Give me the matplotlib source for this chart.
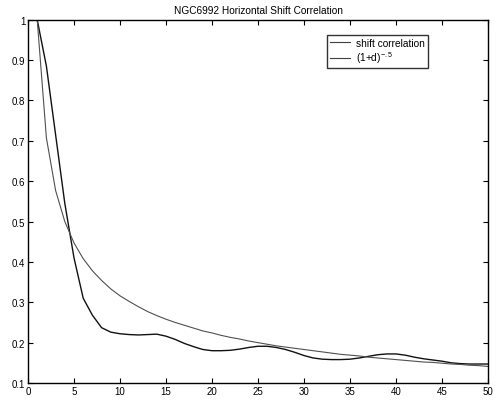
import numpy as np
import matplotlib
matplotlib.use("Agg")
import matplotlib.pyplot as plt
from matplotlib.ticker import FuncFormatter

plt.rcParams['font.family'] = ['Liberation Sans', 'DejaVu Sans']
plt.rcParams['mathtext.fontset'] = 'custom'
plt.rcParams['mathtext.rm'] = 'Liberation Sans'
plt.rcParams['mathtext.default'] = 'regular'

# shift index (1..50)
d = np.arange(1, 51)

shift_corr = [1.0, 0.885, 0.715, 0.545, 0.41, 0.31, 0.268, 0.237, 0.226, 0.222,
              0.220, 0.219, 0.220, 0.221, 0.216, 0.208, 0.198, 0.190, 0.183, 0.180,
              0.180, 0.181, 0.184, 0.188, 0.191, 0.191, 0.188, 0.183, 0.176, 0.168,
              0.162, 0.159, 0.158, 0.158, 0.159, 0.162, 0.166, 0.170, 0.172, 0.172,
              0.169, 0.164, 0.160, 0.157, 0.154, 0.150, 0.148, 0.147, 0.147, 0.147]

# reference curve (1+d)^-.5, values as read
model = [1.000, 0.707, 0.577, 0.500, 0.447, 0.408, 0.378, 0.354, 0.333, 0.316,
         0.302, 0.289, 0.277, 0.267, 0.258, 0.250, 0.243, 0.236, 0.229, 0.224,
         0.218, 0.213, 0.209, 0.204, 0.200, 0.196, 0.192, 0.189, 0.186, 0.183,
         0.180, 0.177, 0.174, 0.171, 0.169, 0.167, 0.164, 0.162, 0.160, 0.158,
         0.156, 0.154, 0.152, 0.151, 0.149, 0.147, 0.146, 0.144, 0.143, 0.141]

fig = plt.figure(figsize=(4.98, 4.02), dpi=100)
ax = fig.add_axes([28/498, 1-384/402, 460/498, (384-20.7)/402])

ax.plot(d, shift_corr, color='#111111', lw=1.0, label='shift correlation')
ax.plot(d, model, color='#505050', lw=0.8, label=r'(1+d)$^{-.5}$')

ax.set_xlim(0, 50)
ax.set_ylim(0.1, 1)
ax.set_xticks(np.arange(0, 51, 5))
ax.set_yticks(np.arange(0.1, 1.01, 0.1))
ax.yaxis.set_major_formatter(FuncFormatter(lambda v, p: '%g' % round(v, 2)))
ax.tick_params(direction='in', length=3.5, width=0.8, labelsize=7, pad=2,
               top=True, right=True, colors='black')
for s in ax.spines.values():
    s.set_linewidth(1.0)

ax.set_title('NGC6992 Horizontal Shift Correlation', fontsize=7.3, pad=5)

leg = ax.legend(loc='upper left', bbox_to_anchor=(327/498, 1-36/402),
                bbox_transform=fig.transFigure, fontsize=7.3, frameon=True,
                fancybox=False, borderaxespad=0, borderpad=0.3,
                handlelength=2.0, handletextpad=0.6, labelspacing=0.15)
leg.get_frame().set_edgecolor('black')
leg.get_frame().set_linewidth(1.0)
for line in leg.get_lines():
    line.set_color('#404040')
    line.set_linewidth(0.8)

fig.savefig('out.png', dpi=100)
